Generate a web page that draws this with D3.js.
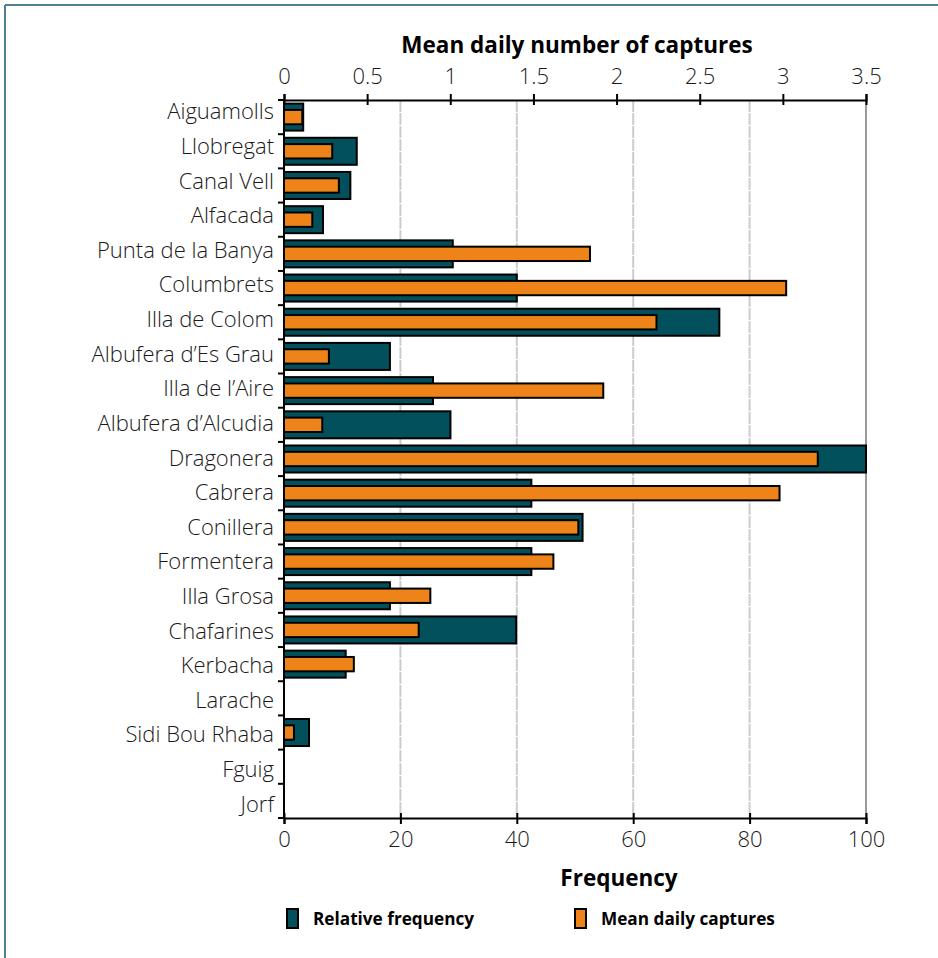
<!DOCTYPE html>
<html>
<head>
<meta charset="utf-8">
<script src="https://cdn.jsdelivr.net/npm/d3@7"></script>
<style>
  html, body { margin: 0; padding: 0; background: #fff; }
  svg { display: block; font-family: "Open Sans", "Noto Sans", sans-serif; }
</style>
</head>
<body>
<script>
// ---- data ----
const sites = ["Aiguamolls", "Llobregat", "Canal Vell", "Alfacada", "Punta de la Banya",
  "Columbrets", "Illa de Colom", "Albufera d\u2019Es Grau", "Illa de l\u2019Aire",
  "Albufera d\u2019Alcudia", "Dragonera", "Cabrera", "Conillera", "Formentera",
  "Illa Grosa", "Chafarines", "Kerbacha", "Larache", "Sidi Bou Rhaba", "Fguig", "Jorf"];
const relFreq = [3.3, 12.5, 11.4, 6.7, 29.0, 40.0, 74.8, 18.2, 25.6, 28.6, 100,
  42.5, 51.3, 42.5, 18.2, 39.9, 10.6, 0, 4.3, 0, 0];
const meanCaptures = [0.11, 0.29, 0.33, 0.17, 1.84, 3.02, 2.24, 0.27, 1.92, 0.23, 3.21,
  2.98, 1.77, 1.62, 0.88, 0.81, 0.42, 0, 0.06, 0, 0];
const freqTicks = [0, 20, 40, 60, 80, 100];
const captureTicks = [0, 0.5, 1, 1.5, 2, 2.5, 3, 3.5];
const seriesNames = ["Relative frequency", "Mean daily captures"];

// ---- layout ----
const W = 938, H = 958;
const TEAL = "#02505c", ORANGE = "#ee8419";
const svg = d3.select("body").append("svg").attr("width", W).attr("height", H);

// frame
svg.append("line").attr("x1", 5).attr("x2", W).attr("y1", 5).attr("y2", 5)
  .attr("stroke", "#50808c").attr("stroke-width", 2);
svg.append("line").attr("x1", 5).attr("x2", 5).attr("y1", 5).attr("y2", H)
  .attr("stroke", "#50808c").attr("stroke-width", 2);

const x = d3.scaleLinear().domain([0, 100]).range([284, 866]);
const x2 = d3.scaleLinear().domain([0, 3.5]).range([284, 866]);
const y = d3.scaleBand().domain(sites).range([100, 818]);
const yLab = d3.scaleBand().domain(sites).range([95, 822]);
const bw = y.bandwidth();

// gridlines
svg.append("g").selectAll("line").data(freqTicks.filter(d => d > 0 && d < 100)).join("line")
  .attr("x1", d => x(d)).attr("x2", d => x(d)).attr("y1", 100).attr("y2", 818)
  .attr("stroke", "#cccccc").attr("stroke-width", 2).attr("stroke-dasharray", "12,1");
svg.append("line").attr("x1", x(100)).attr("x2", x(100)).attr("y1", 100).attr("y2", 818)
  .attr("stroke", "#999").attr("stroke-width", 2);

// bars
const rows = sites.map((s, i) => ({ s, f: relFreq[i], m: meanCaptures[i] }));
const tealH = bw * 0.79, orH = bw * 0.42;
svg.append("g").selectAll("rect").data(rows.filter(d => d.f > 0)).join("rect")
  .attr("x", x(0)).attr("width", d => x(d.f) - x(0))
  .attr("y", d => y(d.s) + (bw - tealH) / 2).attr("height", tealH)
  .attr("fill", TEAL).attr("stroke", "#000").attr("stroke-width", 2);
svg.append("g").selectAll("rect").data(rows.filter(d => d.m > 0)).join("rect")
  .attr("x", x2(0)).attr("width", d => x2(d.m) - x2(0))
  .attr("y", d => y(d.s) + (bw - orH) / 2).attr("height", orH)
  .attr("fill", ORANGE).attr("stroke", "#000").attr("stroke-width", 2);

// top axis
const gTop = svg.append("g").attr("transform", "translate(0,100)")
  .call(d3.axisTop(x2).tickValues(captureTicks).tickFormat(d3.format("~g")).tickSize(6).tickPadding(10));
gTop.selectAll(".tick line").attr("y1", 5).attr("y2", -6);
// bottom axis
const gBot = svg.append("g").attr("transform", "translate(0,818)")
  .call(d3.axisBottom(x).tickValues(freqTicks).tickSize(6).tickPadding(7));
gBot.selectAll(".tick line").attr("y1", -5).attr("y2", 6);
// left axis (labels)
const gLeft = svg.append("g").attr("transform", "translate(284,0)")
  .call(d3.axisLeft(yLab).tickSize(0).tickPadding(10));
gLeft.select(".domain").remove();
// left axis line and band boundary ticks
svg.append("line").attr("x1", 284).attr("x2", 284).attr("y1", 100).attr("y2", 818)
  .attr("stroke", "#000").attr("stroke-width", 2);
svg.append("g").selectAll("line").data(sites.map(s => y(s)).concat([818])).join("line")
  .attr("x1", 278).attr("x2", 285).attr("y1", d => d).attr("y2", d => d)
  .attr("stroke", "#000").attr("stroke-width", 2);

[gTop, gBot, gLeft].forEach(g => {
  g.selectAll(".domain").attr("stroke", "#000").attr("stroke-width", 2);
  g.selectAll(".tick line").attr("stroke", "#000").attr("stroke-width", 2);
  g.selectAll(".tick text").attr("font-size", 22).attr("font-weight", 300)
    .attr("fill", "#1a1a1a").attr("font-family", "\"Open Sans\", sans-serif");
});

// titles
svg.append("text").attr("x", 577).attr("y", 53).attr("text-anchor", "middle")
  .attr("font-size", 22.5).attr("font-weight", 700).text("Mean daily number of captures");
svg.append("text").attr("x", 619).attr("y", 886).attr("text-anchor", "middle")
  .attr("font-size", 22.5).attr("font-weight", 700).text("Frequency");

// legend
const legX = [287, 575];
const legColors = [TEAL, ORANGE];
const leg = svg.append("g").selectAll("g").data(seriesNames).join("g")
  .attr("transform", (d, i) => `translate(${legX[i]},909)`);
leg.append("rect").attr("width", 11).attr("height", 19)
  .attr("fill", (d, i) => legColors[i]).attr("stroke", "#000").attr("stroke-width", 2);
leg.append("text").attr("x", 26).attr("y", 16).attr("font-size", 17.2).attr("font-weight", 700)
  .text(d => d);
</script>
</body>
</html>
